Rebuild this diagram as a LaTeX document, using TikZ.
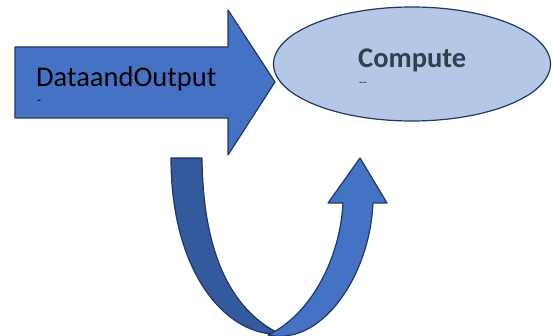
\documentclass[tikz,border=0pt]{standalone}
\usepackage{fontspec}
\setmainfont{Carlito}
\usepackage{tikz}
\usetikzlibrary{positioning,shapes.geometric}
\definecolor{arrowblue}{HTML}{4472C4}
\definecolor{darkband}{HTML}{335A9C}
\definecolor{edgenavy}{HTML}{1F3864}
\definecolor{ovalfill}{HTML}{B4C7E7}
\definecolor{labelgray}{HTML}{323F4F}
\tikzset{
  shapeline/.style={draw=edgenavy, line width=1.2pt, line join=round},
  oval/.style={ellipse, shapeline, fill=ovalfill, minimum width=277pt, minimum height=114pt, inner sep=0pt},
  tick/.style={inner sep=0pt, font=\fontsize{13}{15}\selectfont}
}
\begin{document}
\begin{tikzpicture}[x=1pt,y=-1pt]
    \useasboundingbox (0,0) rectangle (552,336);
    % block arrow
    \fill[arrowblue, shapeline] (15,47) -- (228,47) -- (228,10) -- (275,82)
        -- (228,155) -- (228,118) -- (15,118) -- cycle;
    \node[anchor=base west, inner sep=0pt, font=\fontsize{28.5}{32}\selectfont] (data) at (36,87) {DataandOutput};
    \node[tick, anchor=base west] (datatick) at (37,105) {-};
    % oval
    \node[oval] (compute) at (412,64) {};
    \node[anchor=base west, inner sep=0pt, text=labelgray, font=\bfseries\fontsize{28.5}{32}\selectfont] (computelabel) at (358,68) {Compute};
    \node[tick, anchor=base west, text=labelgray] (computetick) at (359,87) {-{}-};
    % u-turn arrow
    \fill[darkband, shapeline] (171,158) -- (202,158)
        .. controls (203,260) and (235,312) .. (280,334)
        .. controls (228,337) and (171,275) .. (171,158) -- cycle;
    \fill[arrowblue, shapeline] (268,335)
        .. controls (310,315) and (340,260) .. (343,203)
        -- (328,203) -- (360,158) -- (387,203) -- (373,203)
        .. controls (370,270) and (330,332) .. (285,336)
        .. controls (278,337) and (272,336) .. (268,335) -- cycle;
\end{tikzpicture}
\end{document}
